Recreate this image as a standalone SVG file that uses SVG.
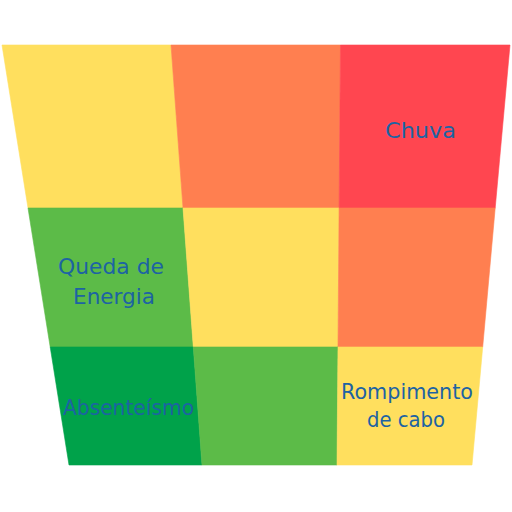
<svg xmlns="http://www.w3.org/2000/svg" width="512" height="512" viewBox="0 0 512 512">
<style>
.y{fill:#FFDF5E;stroke:#FFDF5E;stroke-width:0.6}
.o{fill:#FF7F50;stroke:#FF7F50;stroke-width:0.6}
.r{fill:#FF4650;stroke:#FF4650;stroke-width:0.6}
.g{fill:#5CBB48;stroke:#5CBB48;stroke-width:0.6}
.d{fill:#00A24A;stroke:#00A24A;stroke-width:0.6}
text{font-family:"DejaVu Sans","Liberation Sans",sans-serif;font-size:21px;fill:#1D63A3;text-anchor:middle}
</style>
<rect width="512" height="512" fill="#FFFFFF"/>
<g id="r1c1"><polygon class="y" points="2,45 171,45 183,208 28,208"/></g>
<g id="r1c2"><polygon class="o" points="171,45 340.5,45 339.1,208 183,208"/></g>
<g id="r1c3"><polygon class="r" points="340.5,45 510,45 495.2,208 339.1,208"/>
<text x="420.5" y="138" textLength="71" lengthAdjust="spacingAndGlyphs" style="font-size:22px">Chuva</text></g>
<g id="r2c1"><polygon class="g" points="28,208 183,208 193.3,347 50.2,347"/>
<text x="111" y="274" textLength="106" lengthAdjust="spacingAndGlyphs">Queda de</text>
<text x="114" y="304" textLength="82" lengthAdjust="spacingAndGlyphs">Energia</text></g>
<g id="r2c2"><polygon class="y" points="183,208 339.1,208 338,347 193.3,347"/></g>
<g id="r2c3"><polygon class="o" points="339.1,208 495.2,208 482.7,347 338,347"/></g>
<g id="r3c1"><polygon class="d" points="50.2,347 193.3,347 202,465 69,465"/>
<text x="128.5" y="415" textLength="131" lengthAdjust="spacingAndGlyphs">Absenteísmo</text></g>
<g id="r3c2"><polygon class="g" points="193.3,347 338,347 337,465 202,465"/></g>
<g id="r3c3"><polygon class="y" points="338,347 482.7,347 472,465 337,465"/>
<text x="407" y="399" textLength="132" lengthAdjust="spacingAndGlyphs">Rompimento</text>
<text x="406" y="427" textLength="78" lengthAdjust="spacingAndGlyphs">de cabo</text></g>
<g id="connectors"></g>
</svg>
